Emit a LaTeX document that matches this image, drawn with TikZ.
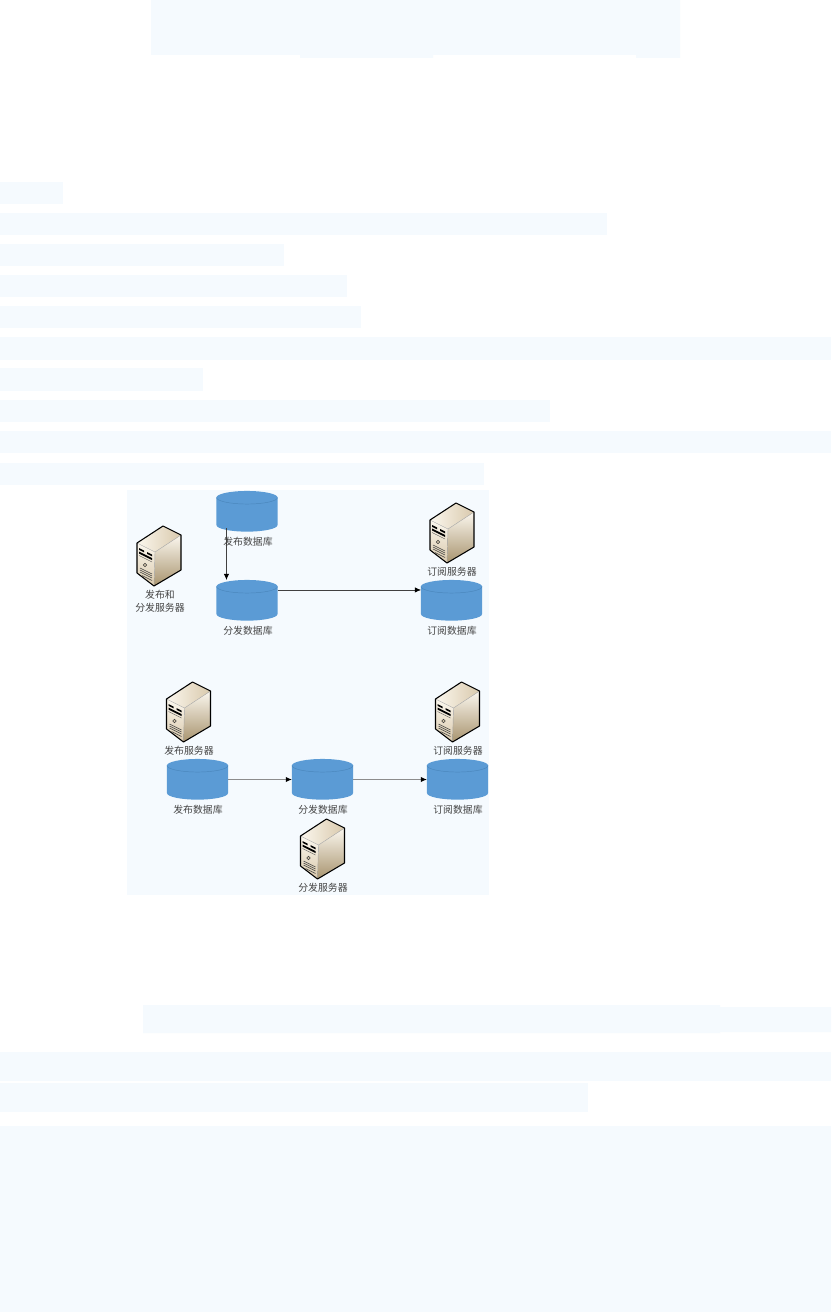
\documentclass[tikz,border=0pt]{standalone}
\usepackage{fontspec}
\setmainfont{Noto Sans CJK SC}
\usetikzlibrary{arrows.meta,calc}
\definecolor{pale}{HTML}{F5FAFE}
\definecolor{cylblue}{HTML}{5B9BD5}
\definecolor{cylline}{HTML}{4A86BC}
\definecolor{txt}{HTML}{444444}
\definecolor{tanA}{HTML}{FBF7EE}
\definecolor{tanB}{HTML}{D9C9AC}
\definecolor{tanC}{HTML}{A8946F}
\newcommand{\dbshape}[3]{%
  \node[dbbox] (#1) at (#2,#3) {};
  \fill[cylblue] (#1.north west) ++(0,-4.9pt) -- ++(0,-20.7pt) arc[start angle=180,end angle=360,x radius=22.9pt,y radius=4.9pt] -- ++(0,20.7pt) arc[start angle=0,end angle=180,x radius=22.9pt,y radius=4.9pt] -- cycle;
  \draw[cylline,line width=.35pt] (#1.north west) ++(0,-4.9pt) arc[start angle=180,end angle=360,x radius=22.9pt,y radius=4.9pt];
}
\tikzset{
  x=0.75pt,y=-0.75pt,
  dbbox/.style={rectangle,draw=none,fill=none,minimum width=45.8pt,minimum height=30.8pt,inner sep=0pt,outer sep=0pt},
  lbl/.style={font=\fontsize{7.4pt}{10pt}\selectfont,text=txt,align=center,inner sep=0pt},
  link/.style={draw=black!75,line width=0.45pt,-{Latex[length=4.6pt,width=4pt,black]}},
  softlink/.style={link,draw=black!45,line width=0.8pt},
  pics/server/.style={code={
    \shade[top color=tanA,bottom color=tanB] (0,0)--(18,9)--(17,43)--(0,30)--cycle;
    \shade[shading angle=300,top color=tanA,bottom color=tanC] (18,9)--(44,-8)--(44,27)--(17,43)--cycle;
    \shade[left color=tanA,right color=tanB] (0,0)--(26,-17)--(44,-8)--(18,9)--cycle;
    \fill[black] (2,5)--(7,7.5)--(7,9.3)--(2,6.8)--cycle (10,9)--(15,11.5)--(15,13.3)--(10,10.8)--cycle (2,8.5)--(15,15)--(15,17)--(2,10.5)--cycle;
    \draw[black!70,line width=.3pt] (2,12.5)--(15,19);
    \draw[black!75,line width=.4pt,fill=tanB] (8,22) circle (1.8);
    \draw[black!75,line width=.35pt] (3,25)--(15,31) (3,27)--(15,33) (3,29)--(15,35) (5,32.5)--(15,37.5);
    \draw[black!35,line width=.3pt] (18,9)--(17,43) (18,9)--(44,-8) (18,9)--(0,0);
    \draw[black,line width=.8pt,line join=round] (0,0)--(26,-17)--(44,-8)--(44,27)--(17,43)--(0,30)--cycle;
  }}
}
\begin{document}
\begin{tikzpicture}
\useasboundingbox (0,0) rectangle (831,1312);
\fill[white] (0,0) rectangle (831,1312);
% pale blocks
\fill[pale] (151,0) -- (680,0) -- (680,58) -- (636,58) -- (636,55) -- (433,55) -- (433,58) -- (300,58) -- (300,55) -- (151,55) -- cycle;
\foreach \w/\a/\b in {63/182/204,607/213/235,284/244/266,347/275/297,361/306/328,831/337/360,203/368/391,550/400/422,831/431/453,484/463/485,588/1083/1112,831/1126/1312,831/1052/1081}
  \fill[pale] (0,\a) rectangle (\w,\b);
\fill[pale] (143,1005) -- (720,1005) -- (720,1007) -- (831,1007) -- (831,1032) -- (720,1032) -- (720,1033) -- (143,1033) -- cycle;
\fill[pale] (127,490) rectangle (489,895);
% databases
\dbshape{pubA}{247}{511.5}
\dbshape{distA}{247}{600.5}
\dbshape{subA}{451.5}{600.5}
\dbshape{pubB}{197.5}{779.5}
\dbshape{distB}{322.5}{779.5}
\dbshape{subB}{457.5}{779.5}
% labels
\node[lbl] (lpubA) at (248,541.5) {发布数据库};
\node[lbl] (ldistA) at (248,630.5) {分发数据库};
\node[lbl] (lsubA) at (452,630.5) {订阅数据库};
\node[lbl] (lsrvA) at (452,572) {订阅服务器};
\node[lbl] (lmix) at (160,601.5) {发布和\\分发服务器};
\node[lbl] (lsrvB) at (189,750.5) {发布服务器};
\node[lbl] (lsubsrvB) at (458,750.5) {订阅服务器};
\node[lbl] (lpubB) at (198,809.5) {发布数据库};
\node[lbl] (ldistB) at (323,809.5) {分发数据库};
\node[lbl] (lsubB) at (458,809.5) {订阅数据库};
\node[lbl] (ldistsrvB) at (323,887.5) {分发服务器};
% servers
\pic at (137,543) {server};
\pic at (430,520) {server};
\pic at (166.5,699) {server};
\pic at (435.5,699) {server};
\pic at (300.5,836) {server};
% connectors
\draw[link] ([xshift=-15.4pt,yshift=3pt]pubA.south) -- ([xshift=-15.4pt]distA.north);
\draw[link] ([yshift=7.9pt]distA.east) -- ([yshift=7.9pt]subA.west);
\draw[softlink] (pubB.east) -- (distB.west);
\draw[softlink] (distB.east) -- (subB.west);
\end{tikzpicture}
\end{document}
